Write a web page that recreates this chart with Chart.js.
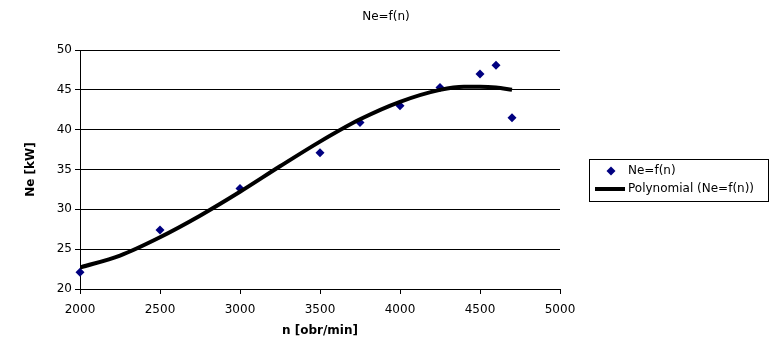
<html>
<head>
<script src="https://cdn.jsdelivr.net/npm/chart.js@4.4.1/dist/chart.umd.min.js"></script>
<style>
  body { margin: 0; background: #fff; }
</style>
</head>
<body>
<canvas id="myChart" width="775" height="359"></canvas>
<script>
// measured points
var n = [2000, 2500, 3000, 3500, 3750, 4000, 4250, 4500, 4600, 4700];
var ne = [22.1, 27.4, 32.6, 37.1, 40.9, 43.0, 45.3, 47.0, 48.1, 41.5];

// trendline
var trendN = [2000, 2250, 2500, 2750, 3000, 3250, 3500, 3750, 4000, 4250, 4400, 4500, 4600, 4700];
var trendNe = [22.7, 24.2, 26.5, 29.2, 32.2, 35.4, 38.5, 41.3, 43.5, 45.0, 45.4, 45.4, 45.3, 45.0];

var xTicks = [2000, 2500, 3000, 3500, 4000, 4500, 5000];
var yTicks = [20, 25, 30, 35, 40, 45, 50];

var chartTitle = "Ne=f(n)";
var seriesName = "Ne=f(n)";
var trendName = "Polynomial (Ne=f(n))";

function toXY(xs, ys) {
    return xs.map(function (x, i) { return { x: x, y: ys[i] }; });
}

var FONT = "'DejaVu Sans', sans-serif";

// title + bordered legend like the spreadsheet one
var extras = {
    id: 'extras',
    afterDraw: function (chart) {
        var ctx = chart.ctx;
        ctx.save();
        ctx.fillStyle = '#000';
        ctx.font = "12px " + FONT;
        ctx.textAlign = 'center';
        ctx.textBaseline = 'middle';
        ctx.fillText(chartTitle, 386, 17);

        ctx.strokeStyle = '#000';
        ctx.lineWidth = 1;
        ctx.strokeRect(589.5, 159.5, 179, 42);

        // diamond
        ctx.fillStyle = '#000080';
        ctx.beginPath();
        ctx.moveTo(611, 166.5);
        ctx.lineTo(615.5, 171);
        ctx.lineTo(611, 175.5);
        ctx.lineTo(606.5, 171);
        ctx.closePath();
        ctx.fill();

        ctx.lineWidth = 4;
        ctx.beginPath();
        ctx.moveTo(595, 189);
        ctx.lineTo(625, 189);
        ctx.stroke();

        ctx.fillStyle = '#000';
        ctx.textAlign = 'left';
        ctx.fillText(seriesName, 628, 171);
        ctx.fillText(trendName, 628, 189);
        ctx.restore();
    }
};

var ctx = document.getElementById("myChart").getContext("2d");
var chart = new Chart(ctx, {
    type: 'scatter',
    data: {
        datasets: [
            {
                label: seriesName,
                data: toXY(n, ne),
                pointStyle: 'rectRot',
                pointRadius: 4.5,
                pointBackgroundColor: '#000080',
                pointBorderColor: '#000080',
                pointBorderWidth: 0,
                showLine: false,
                clip: false,
                order: 1
            },
            {
                label: trendName,
                type: 'line',
                data: toXY(trendN, trendNe),
                borderColor: '#000',
                borderWidth: 4,
                pointRadius: 0,
                fill: false,
                cubicInterpolationMode: 'monotone',
                order: 0
            }
        ]
    },
    options: {
        responsive: false,
        animation: false,
        layout: { padding: { top: 50, right: 215, left: 0, bottom: 0 } },
        plugins: {
            legend: { display: false },
            title: { display: false },
            tooltip: { enabled: false }
        },
        scales: {
            x: {
                type: 'linear',
                min: 2000,
                max: 5000,
                afterBuildTicks: function (s) { s.ticks = xTicks.map(function (v) { return { value: v }; }); },
                afterFit: function (s) { s.height = 70; },
                ticks: {
                    color: '#000', font: { family: FONT, size: 12 }, padding: 9, maxRotation: 0,
                    callback: function (v) { return String(v); }
                },
                grid: { drawOnChartArea: false, color: '#000', tickLength: 5 },
                border: { color: '#000' },
                title: {
                    display: true,
                    text: 'n [obr/min]',
                    color: '#000',
                    font: { family: FONT, size: 12, weight: 'bold' },
                    padding: { top: 0, bottom: 21 }
                }
            },
            y: {
                min: 20,
                max: 50,
                afterBuildTicks: function (s) { s.ticks = yTicks.map(function (v) { return { value: v }; }); },
                afterFit: function (s) { s.width = 80; },
                ticks: { color: '#000', font: { family: FONT, size: 12 }, padding: 3 },
                grid: { color: '#000', tickLength: 5 },
                border: { color: '#000' },
                title: {
                    display: true,
                    text: 'Ne [kW]',
                    color: '#000',
                    font: { family: FONT, size: 12, weight: 'bold' },
                    padding: { top: 24, bottom: 0 }
                }
            }
        }
    },
    plugins: [extras]
});
</script>
</body>
</html>
